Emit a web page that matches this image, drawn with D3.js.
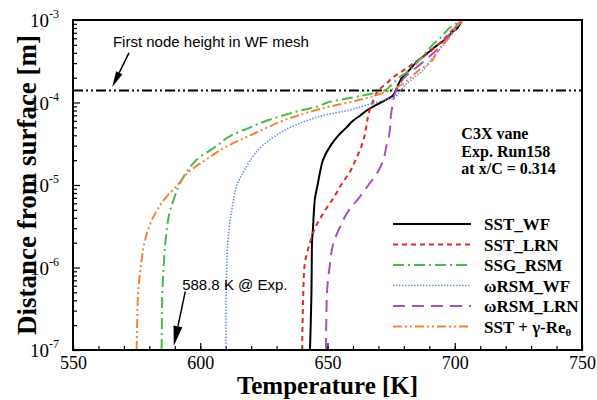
<!DOCTYPE html>
<html>
<head>
<meta charset="utf-8">
<script src="https://cdn.jsdelivr.net/npm/d3@7"></script>
<style>
body { margin: 0; background: #fff; }
</style>
</head>
<body>
<script>
// distance from surface [m], shared by all profiles
const distance = [1e-7, 2e-7, 5e-7, 1e-6, 2e-6, 3e-6, 5e-6, 7e-6, 1e-5, 1.5e-5, 2e-5, 3e-5, 4e-5, 5e-5, 6e-5,
    7e-5, 8e-5, 9e-5, 1e-4, 1.2e-4, 1.4e-4, 1.7e-4, 2e-4, 2.5e-4, 3e-4, 4e-4, 5e-4, 6e-4, 7e-4, 8e-4, 1e-3];

// temperature [K] for each model
const sstWF = [643.1, 643.4, 643.7, 643.8, 643.9, 644.3, 644.7, 645.1, 646.1, 647.2, 648.2, 651.2, 654.3, 657.5, 660.0,
    663.0, 665.4, 668.1, 670.9, 675.5, 676.8, 678.0, 679.3, 682.3, 684.6, 689.4, 693.3, 696.9, 698.8, 701.0, 702.8];
const sstLRN = [640.0, 640.2, 640.5, 640.9, 643.1, 645.1, 649.2, 652.4, 655.3, 659.1, 661.0, 663.4, 664.6, 665.2, 665.6,
    666.0, 666.5, 667.1, 667.7, 668.7, 669.9, 673.2, 675.6, 680.3, 683.9, 689.8, 693.3, 696.1, 698.0, 699.8, 702.8];
const ssgRSM = [584.8, 584.9, 585.1, 585.6, 586.3, 586.9, 588.2, 589.8, 591.7, 595.1, 598.4, 606.7, 612.2, 619.7, 626.0,
    632.7, 639.4, 646.5, 650.0, 663.0, 672.4, 675.6, 678.0, 682.7, 685.0, 688.6, 691.3, 694.1, 696.1, 698.0, 702.8];
const wRSM_WF = [610.1, 610.1, 610.2, 610.4, 610.8, 611.4, 612.4, 613.2, 614.4, 617.3, 619.7, 624.4, 629.9, 635.4, 641.7,
    648.4, 657.9, 663.8, 668.9, 676.8, 678.7, 681.1, 684.1, 687.8, 689.8, 692.9, 695.7, 697.2, 698.8, 700.4, 702.8];
const wRSM_LRN = [649.4, 649.5, 649.8, 650.8, 652.4, 654.7, 658.5, 662.4, 666.1, 670.1, 671.9, 673.2, 674.2, 674.6, 674.8,
    674.9, 675.2, 675.5, 675.7, 676.2, 677.0, 678.5, 680.1, 683.9, 687.0, 691.7, 694.9, 696.7, 698.4, 700.0, 702.8];
const sstGamma = [575.0, 575.2, 575.6, 576.6, 578.1, 579.7, 583.1, 586.4, 591.1, 596.1, 602.0, 611.0, 619.7, 626.4, 632.3,
    638.6, 644.9, 651.2, 658.3, 668.1, 674.4, 679.9, 682.7, 686.2, 690.2, 692.9, 695.3, 697.6, 699.2, 700.4, 702.8];

const seriesNames = ["SST_WF", "SST_LRN", "SSG_RSM", "ωRSM_WF", "ωRSM_LRN", "SST + γ-Re"];
const seriesValues = [sstWF, sstLRN, ssgRSM, wRSM_WF, wRSM_LRN, sstGamma];
const seriesColors = ["#000000", "#dd2a2a", "#4cb84c", "#6f8fde", "#a553b5", "#f2843a"];
const seriesDash = [null, "5,4", "11,4,2,4", "1.5,1.5", "12,7", "9,3,2,3,2,3"];
const seriesWidth = [2, 2, 2, 1.6, 2, 2];

const xMajor = [550, 600, 650, 700, 750];
const xMinor = d3.range(550, 751, 10);
const yMajor = [1e-7, 1e-6, 1e-5, 1e-4, 1e-3];

const firstNodeHeight = 1.4e-4;
const expLabel = "588.8 K @ Exp.";

const margin = {top: 20, right: 15, bottom: 50, left: 73},
    width = 597 - margin.left - margin.right,
    height = 400 - margin.top - margin.bottom;

const serif = "'Liberation Serif', 'Times New Roman', serif";
const sans = "'Liberation Sans', Arial, sans-serif";

let svg = d3.select("body")
  .append("svg")
    .attr("width", width + margin.left + margin.right)
    .attr("height", height + margin.top + margin.bottom)
  .append("g")
    .attr("transform", "translate(" + margin.left + "," + margin.top + ")");

const x = d3.scaleLinear().domain([550, 750]).range([0, width]);
const y = d3.scaleLog().domain([1e-7, 1e-3]).range([height, 0]);

svg.append("defs").append("clipPath").attr("id", "clip")
  .append("rect").attr("width", width).attr("height", height);

// minor ticks
let xMinorAxis = svg.append("g")
    .attr("transform", "translate(0," + height + ")")
    .call(d3.axisBottom(x).tickValues(xMinor).tickSize(-4).tickFormat(""));
xMinorAxis.select(".domain").remove();

let yMinorTicks = [];
for (let e = -7; e < -3; e++) for (let k = 2; k <= 9; k++) yMinorTicks.push(k * Math.pow(10, e));
let yMinorAxis = svg.append("g")
    .call(d3.axisLeft(y).tickValues(yMinorTicks).tickSize(-4).tickFormat(""));
yMinorAxis.select(".domain").remove();

// major axes
let xAxis = svg.append("g")
    .attr("transform", "translate(0," + height + ")")
    .call(d3.axisBottom(x).tickValues(xMajor).tickSize(-7).tickPadding(6).tickFormat(d3.format("")));
xAxis.select(".domain").remove();
xAxis.selectAll(".tick text")
    .attr("font-family", serif).attr("font-size", 18).attr("fill", "#000");

let yAxis = svg.append("g")
    .call(d3.axisLeft(y).tickValues(yMajor).tickSize(-7).tickPadding(14).tickFormat(""));
yAxis.select(".domain").remove();
yAxis.selectAll(".tick text")
    .attr("font-family", serif).attr("font-size", 19).attr("fill", "#000")
    .attr("dy", "0.35em")
    .each(function(d) {
        const t = d3.select(this);
        t.append("tspan").text("10");
        t.append("tspan").attr("font-size", 12).attr("dy", "-0.75em")
            .text(Math.round(Math.log10(d)));
    });
svg.selectAll(".tick line").attr("stroke", "#000").attr("stroke-width", 1.2);

// first node height line
svg.append("line")
    .attr("x1", 0).attr("x2", width)
    .attr("y1", y(firstNodeHeight)).attr("y2", y(firstNodeHeight))
    .attr("stroke", "#000").attr("stroke-width", 2)
    .attr("stroke-dasharray", "10,3,2,3,2,3");

// profiles
const line = d3.line()
    .x(d => x(d[0]))
    .y(d => y(d[1]))
    .curve(d3.curveMonotoneY);

seriesValues.forEach((vals, i) => {
    svg.append("path")
        .datum(vals.map((t, j) => [t, distance[j]]))
        .attr("clip-path", "url(#clip)")
        .attr("fill", "none")
        .attr("stroke", seriesColors[i])
        .attr("stroke-width", seriesWidth[i])
        .attr("stroke-dasharray", seriesDash[i])
        .attr("d", line);
});

// frame
svg.append("rect")
    .attr("width", width).attr("height", height)
    .attr("fill", "none").attr("stroke", "#000").attr("stroke-width", 2);

// arrows
function arrow(x1, y1, x2, y2, headLen, headW) {
    const a = Math.atan2(y2 - y1, x2 - x1);
    const bx = x2 - headLen * Math.cos(a), by = y2 - headLen * Math.sin(a);
    svg.append("line").attr("x1", x1).attr("y1", y1).attr("x2", bx).attr("y2", by)
        .attr("stroke", "#000").attr("stroke-width", 1.5);
    const px = -Math.sin(a) * headW / 2, py = Math.cos(a) * headW / 2;
    svg.append("path")
        .attr("d", "M" + x2 + "," + y2 + "L" + (bx + px) + "," + (by + py) + "L" + (bx - px) + "," + (by - py) + "Z")
        .attr("fill", "#000");
}
arrow(x(572), y(4.0e-4), x(565.4), y(1.54e-4), 16, 7);
arrow(x(594.1), y(5.1e-7), x(589.6), y(1.12e-7), 20, 9);

svg.append("text")
    .attr("x", x(565.7)).attr("y", y(4.71e-4))
    .attr("font-family", sans).attr("font-size", 15)
    .text("First node height in WF mesh");

svg.append("text")
    .attr("x", x(592.9)).attr("y", y(5.33e-7))
    .attr("font-family", sans).attr("font-size", 15)
    .text(expLabel);

// case description
const caseLines = ["C3X vane", "Exp. Run158", "at x/C = 0.314"];
svg.append("g").selectAll("text")
    .data(caseLines).enter().append("text")
    .attr("x", x(702.6))
    .attr("y", (d, i) => y(3.6e-5) + i * 17.5)
    .attr("font-family", serif).attr("font-size", 16).attr("font-weight", "bold")
    .text(d => d);

// legend
let legend = svg.append("g").attr("transform", "translate(" + (393 - margin.left) + "," + (224 - margin.top) + ")");
seriesNames.forEach((name, i) => {
    const g = legend.append("g").attr("transform", "translate(0," + i * 20.5 + ")");
    g.append("line").attr("x1", 0).attr("x2", 78)
        .attr("stroke", seriesColors[i]).attr("stroke-width", seriesWidth[i])
        .attr("stroke-dasharray", seriesDash[i]);
    const t = g.append("text").attr("x", 91).attr("y", 6)
        .attr("font-family", serif).attr("font-size", 17).attr("font-weight", "bold")
        .text(name);
    if (i === 5) t.append("tspan").attr("font-size", 11).attr("dy", "0.35em").text("θ");
});

// axis titles
svg.append("text")
    .attr("x", width / 2).attr("y", height + 44)
    .attr("text-anchor", "middle")
    .attr("font-family", serif).attr("font-size", 25).attr("font-weight", "bold")
    .text("Temperature [K]");

svg.append("text")
    .attr("transform", "translate(" + (36 - margin.left) + "," + (height / 2) + ") rotate(-90)")
    .attr("text-anchor", "middle")
    .attr("font-family", serif).attr("font-size", 27).attr("font-weight", "bold")
    .text("Distance from surface [m]");
</script>
</body>
</html>
